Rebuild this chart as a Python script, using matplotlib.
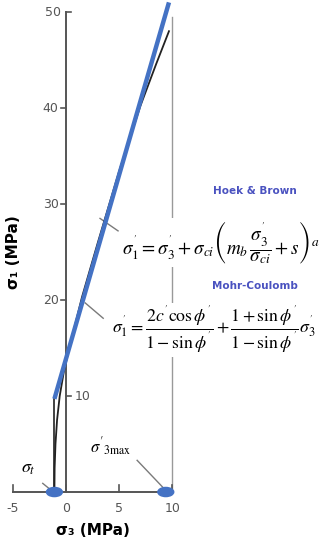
import matplotlib.pyplot as plt
import numpy as np
from matplotlib.patches import Ellipse

# --- data (sigma3, sigma1 in MPa) ---
hb_sig3 = [-1.1, -1.08, -1.0, -0.85, -0.6, -0.2, 0.3, 1.5, 3.0, 5.0, 7.0, 8.5, 9.7]
hb_sig1 = [0.0, 2.5, 5.0, 7.5, 10.0, 12.6, 15.0, 20.3, 26.0, 33.4, 40.2, 44.6, 48.0]

mc_sig3 = [-1.1, 9.7]
mc_sig1 = [9.7, 51.0]

cutoff_sig3 = [-1.1, -1.1]
cutoff_sig1 = [0.0, 9.7]

sig_t = -1.1
sig3_max = 9.4

xticks = [-5, 0, 5, 10]
yticks_left = [20, 30, 40]
yticks_right = [10, 50]

GRAY = "#555555"
BLUE = "#4472c4"
LABEL_BLUE = "#4a52c0"

plt.rcParams['mathtext.fontset'] = 'stix'

fig = plt.figure(figsize=(3.27, 5.5), dpi=100)
ax = fig.add_axes([0, 0, 1, 1])
ax.set_xlim(-6.23, 24.6)
ax.set_ylim(-6.04, 51.25)
ax.axis('off')

# axes drawn by hand
ax.plot([-5, 10], [0, 0], color=GRAY, lw=1.4, zorder=2)
ax.plot([0, 0], [0, 50], color=GRAY, lw=1.4, zorder=2)
ax.plot([10, 10], [0, 49.5], color="#999999", lw=1.0, zorder=1)
for t in xticks:
    ax.plot([t, t], [0, 0.7], color=GRAY, lw=1.2)
    ax.text(t, -1.0, str(t), ha='center', va='top', fontsize=9, color=GRAY)
for t in yticks_left:
    ax.plot([-0.45, 0], [t, t], color=GRAY, lw=1.2)
    ax.text(-0.7, t, str(t), ha='right', va='center', fontsize=9, color=GRAY)
for t in yticks_right:
    ax.plot([0, 0.45], [t, t], color=GRAY, lw=1.2)
ax.text(-0.5, 50, "50", ha='right', va='center', fontsize=9, color=GRAY)
ax.text(0.8, 10, "10", ha='left', va='center', fontsize=9, color=GRAY)

# curves
ax.plot(cutoff_sig3, cutoff_sig1, color="#333333", lw=1.3, zorder=3)
ax.plot(hb_sig3, hb_sig1, color="#222222", lw=1.3, zorder=3)
ax.plot(mc_sig3, mc_sig1, color=BLUE, lw=3.2, solid_capstyle='butt', zorder=4)

for xc in [sig_t, sig3_max]:
    ax.add_patch(Ellipse((xc, 0), 1.5, 0.95, color=BLUE, zorder=5))

# leader lines
lc = "#7a7a7a"
ax.plot([4.9, 3.2], [27.2, 28.5], color=lc, lw=1.0)
ax.plot([3.5, 1.8], [18.1, 19.7], color=lc, lw=1.0)
ax.plot([-2.2, -1.2], [0.9, 0.0], color=lc, lw=1.0)
ax.plot([6.7, 9.2], [3.3, 0.4], color=lc, lw=1.0)

# labels
ax.text(-3.6, 2.5, r"$\sigma_t$", fontsize=13, ha='center', va='center')
ax.text(4.2, 4.7, r"$\sigma'_{3\mathrm{max}}$", fontsize=12, ha='center', va='center')

ax.text(17.8, 31.4, "Hoek & Brown", fontsize=7.5, fontweight='bold',
        color=LABEL_BLUE, ha='center', va='center')
ax.text(17.8, 21.5, "Mohr-Coulomb", fontsize=7.5, fontweight='bold',
        color=LABEL_BLUE, ha='center', va='center')

box = dict(facecolor='white', edgecolor='none', pad=1)
ax.text(14.6, 26.0,
        r"$\sigma_1^{'} = \sigma_3^{'} + \sigma_{ci}\left(m_b\,\dfrac{\sigma_3^{'}}{\sigma_{ci}} + s\right)^{a}$",
        fontsize=13.8, ha='center', va='center', bbox=box, zorder=6)
ax.text(13.9, 16.9,
        r"$\sigma_1^{'} = \dfrac{2c^{'}\cos\phi^{'}}{1-\sin\phi^{'}} + \dfrac{1+\sin\phi^{'}}{1-\sin\phi^{'}}\sigma_3^{'}$",
        fontsize=12.8, ha='center', va='center', bbox=box, zorder=6)

# axis titles
ax.text(-5.0, 25.0, "σ₁ (MPa)", rotation=90, fontsize=11, fontweight='bold',
        ha='center', va='center')
ax.text(2.5, -4.0, "σ₃ (MPa)", fontsize=11, fontweight='bold',
        ha='center', va='center')

fig.savefig("out.png", dpi=100)
